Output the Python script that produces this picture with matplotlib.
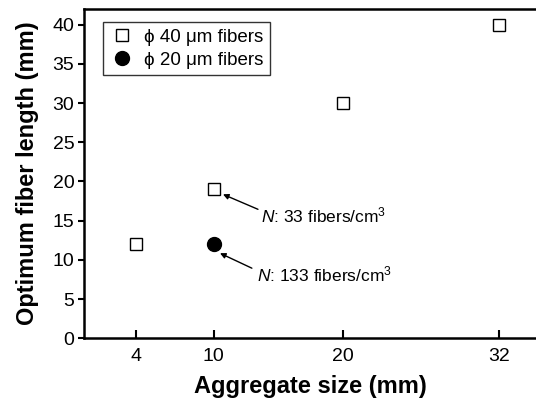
import matplotlib
matplotlib.use('Agg')
import matplotlib.pyplot as plt
import matplotlib as mpl

size_40 = [4, 10, 20, 32]
len_40 = [12, 19, 30, 40]
size_20 = [10]
len_20 = [12]
xticks = [4, 10, 20, 32]
yticks = [0, 5, 10, 15, 20, 25, 30, 35, 40]

mpl.rc('font', family=['Liberation Sans', 'DejaVu Sans'], size=12)
mpl.rcParams['mathtext.fontset'] = 'custom'
mpl.rcParams['mathtext.rm'] = 'Liberation Sans'
mpl.rcParams['mathtext.it'] = 'Liberation Sans:italic'

fig = plt.figure(figsize=(5.36, 4.01), dpi=100)
ax = fig.add_axes([0.1569, 0.1564, 0.846, 0.8212])

ax.plot(size_40, len_40, 's', mfc='white', mec='black', mew=1.0, ms=8,
        label='ϕ 40 μm fibers')
ax.plot(size_20, len_20, 'o', color='black', ms=10,
        label='ϕ 20 μm fibers')

ax.set_xlim(0, 35)
ax.set_ylim(0, 42)
ax.set_xticks(xticks)
ax.set_yticks(yticks)
ax.tick_params(axis='x', direction='in', length=6, width=1.5, labelsize=14, pad=7)
ax.tick_params(axis='y', direction='out', length=4, width=1.5, labelsize=14, pad=3)
for s in ['left', 'bottom', 'top']:
    ax.spines[s].set_linewidth(1.8)
ax.spines['right'].set_visible(False)

ax.set_xlabel('Aggregate size (mm)', fontsize=17, fontweight='bold', labelpad=7)
ax.set_ylabel('Optimum fiber length (mm)', fontsize=17, fontweight='bold', labelpad=10)

ax.annotate('', xy=(10.72, 18.36), xytext=(13.42, 16.45),
            arrowprops=dict(arrowstyle='-|>', color='black', lw=1.0,
                            mutation_scale=8, shrinkA=0, shrinkB=0))
ax.text(13.65, 15.7, r'$N$: 33 fibers/cm$^3$', fontsize=12.5, va='center', ha='left')
ax.annotate('', xy=(10.49, 10.85), xytext=(12.95, 8.94),
            arrowprops=dict(arrowstyle='-|>', color='black', lw=1.0,
                            mutation_scale=8, shrinkA=0, shrinkB=0))
ax.text(13.34, 8.18, r'$N$: 133 fibers/cm$^3$', fontsize=12.5, va='center', ha='left')

leg = ax.legend(loc='upper left', bbox_to_anchor=(0.042, 0.96), borderaxespad=0,
                fancybox=False, edgecolor='black', fontsize=13.5, handletextpad=0.55,
                borderpad=0.35, labelspacing=0.3, handlelength=1.3)
leg.get_frame().set_linewidth(1.0)

plt.savefig('out.png', dpi=100)
